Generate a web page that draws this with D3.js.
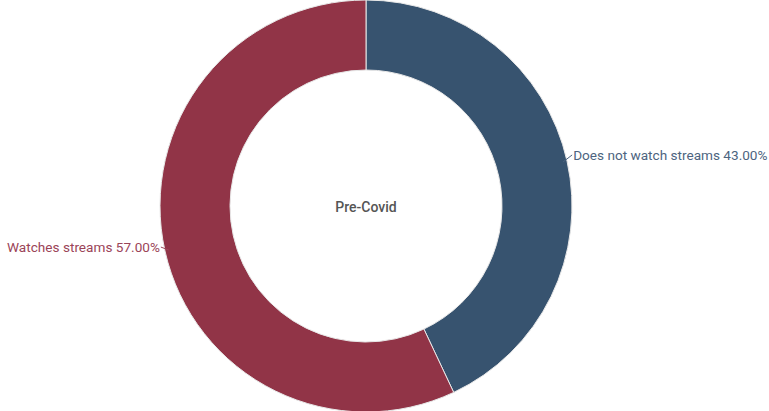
<!DOCTYPE html>
<html>
<head>
<meta charset="utf-8">
<script src="https://cdn.jsdelivr.net/npm/d3@7"></script>
<style>
  html, body { margin: 0; padding: 0; background: #fff; }
  svg { display: block; font-family: Roboto, "Noto Sans", sans-serif; }
</style>
</head>
<body>
<svg id="chart" width="769" height="411"></svg>
<script>
const categories = ["Does not watch streams", "Watches streams"];
const values = [43.0, 57.0];
const colors = ["#37536f", "#913447"];
const labelColors = ["#4d6480", "#9b4458"];
const centerTitle = "Pre-Covid";

const width = 769, height = 411;
const cx = 366, cy = 206;
const outerR = 206, innerR = 136;

const svg = d3.select("#chart");
const g = svg.append("g").attr("transform", `translate(${cx},${cy})`);

const data = categories.map((c, i) => ({ name: c, value: values[i], color: colors[i], labelColor: labelColors[i] }));

const pie = d3.pie().value(d => d.value).sort(null);
const arcs = pie(data);
const arc = d3.arc().innerRadius(innerR).outerRadius(outerR);

g.selectAll("path.slice")
  .data(arcs)
  .join("path")
  .attr("class", "slice")
  .attr("d", arc)
  .attr("fill", d => d.data.color)
  .attr("stroke", "#e8e8e8")
  .attr("stroke-width", 1);

// leader lines and labels
const fmt = d3.format(".2f");
arcs.forEach(a => {
  const mid = (a.startAngle + a.endAngle) / 2;
  const sx = Math.sin(mid), sy = -Math.cos(mid);
  const p0 = [sx * (outerR - 4), sy * (outerR - 4)];
  const right = sx > 0;
  const p1 = [p0[0] + (right ? 9 : -8), p0[1] - (right ? 7 : 3)];
  g.append("polyline")
    .attr("points", [p0, p1].map(p => p.join(",")).join(" "))
    .attr("fill", "none")
    .attr("stroke", a.data.labelColor)
    .attr("stroke-width", 1);
  g.append("text")
    .attr("x", p1[0] + (right ? 1 : -1))
    .attr("y", p1[1])
    .attr("dy", "0.35em")
    .attr("text-anchor", right ? "start" : "end")
    .attr("fill", a.data.labelColor)
    .attr("font-size", 13.6)
    .text(`${a.data.name} ${fmt(a.data.value)}%`);
});

g.append("text")
  .attr("x", 0)
  .attr("y", 1)
  .attr("dy", "0.35em")
  .attr("text-anchor", "middle")
  .attr("fill", "#555")
  .attr("font-size", 14)
  .attr("font-weight", 500)
  .text(centerTitle);
</script>
</body>
</html>
